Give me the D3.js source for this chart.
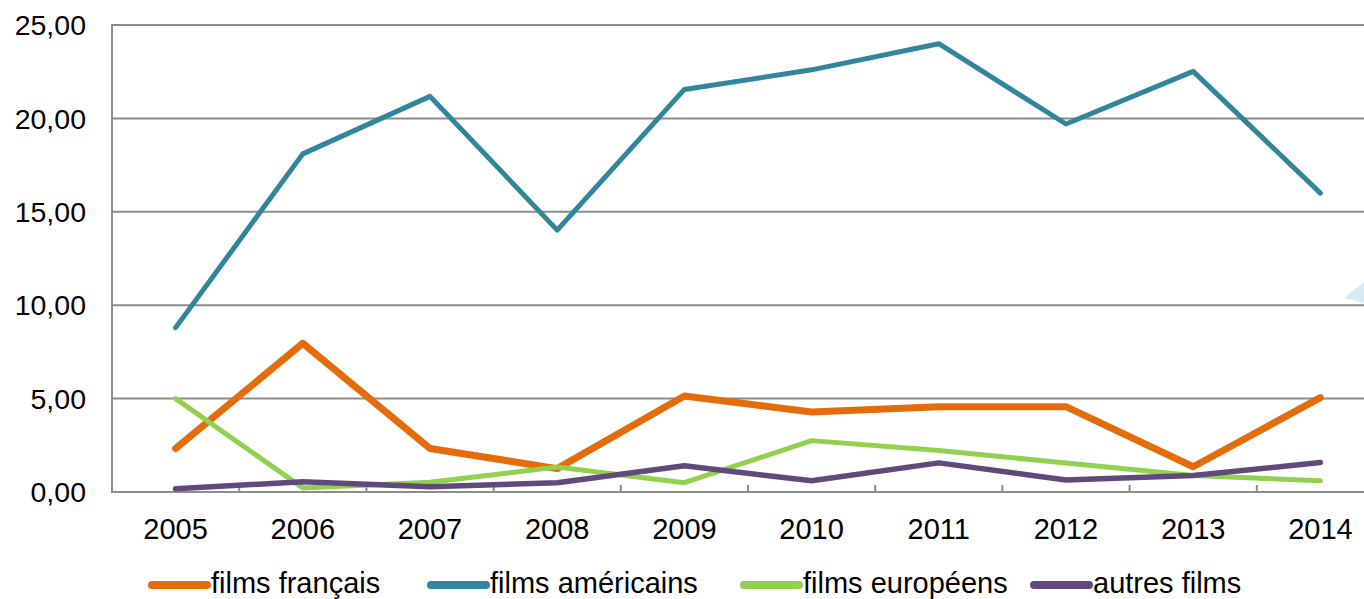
<!DOCTYPE html>
<html>
<head>
<meta charset="utf-8">
<script src="https://cdn.jsdelivr.net/npm/d3@7"></script>
<style>
  html, body { margin: 0; padding: 0; background: #fff; overflow: hidden; }
  svg { display: block; }
  text { font-family: "Liberation Sans", Arial, sans-serif; fill: #000; }
</style>
</head>
<body>
<svg id="chart" width="1364" height="599"></svg>
<script>
const years = ["2005","2006","2007","2008","2009","2010","2011","2012","2013","2014"];
const seriesNames = ["films français","films américains","films européens","autres films"];
const filmsFrancais   = [2.33, 7.96, 2.33, 1.25, 5.14, 4.28, 4.57, 4.57, 1.35, 5.05];
const filmsAmericains = [8.80, 18.10, 21.18, 14.02, 21.55, 22.60, 24.00, 19.70, 22.52, 16.00];
const filmsEuropeens  = [5.00, 0.22, 0.52, 1.34, 0.50, 2.75, 2.22, 1.55, 0.88, 0.60];
const autresFilms     = [0.17, 0.55, 0.28, 0.50, 1.40, 0.60, 1.56, 0.64, 0.88, 1.58];
const yTicks = [0, 5, 10, 15, 20, 25];
const colors = ["#E46C0A", "#31859C", "#92D050", "#604A7B"];
const widths = [7, 5, 5, 5.5];

const seriesValues = [filmsFrancais, filmsAmericains, filmsEuropeens, autresFilms];

(function () {
const svg = d3.select("#chart");
const mLeft = 112, mTop = 25, mBottom = 492, mRight = 112 + 10 * 127.2;

const x = d3.scaleBand().domain(years).range([mLeft, mRight]).padding(0);
const y = d3.scaleLinear().domain([0, 25]).range([mBottom, mTop]);

const fmt = v => d3.format(".2f")(v).replace(".", ",");

// decoration triangle at right edge
svg.append("path")
  .attr("d", "M1364,282 L1344,298 L1364,303 Z")
  .attr("fill", "#d6eaf2");

// gridlines
svg.append("g").selectAll("line").data(yTicks).join("line")
  .attr("x1", mLeft).attr("x2", mRight)
  .attr("y1", d => y(d)).attr("y2", d => y(d))
  .attr("stroke", "#8c8c8c").attr("stroke-width", 2);

// y axis line
svg.append("line")
  .attr("x1", mLeft).attr("x2", mLeft).attr("y1", mTop - 1).attr("y2", mBottom + 1)
  .attr("stroke", "#8c8c8c").attr("stroke-width", 2);

// y labels
svg.append("g").selectAll("text").data(yTicks).join("text")
  .attr("x", 86).attr("y", d => y(d))
  .attr("dy", "0.36em")
  .attr("text-anchor", "end")
  .attr("font-size", 28.5)
  .text(d => fmt(d));

// x tick marks at band boundaries (upward)
svg.append("g").selectAll("line").data(years.slice(1)).join("line")
  .attr("x1", d => x(d)).attr("x2", d => x(d))
  .attr("y1", mBottom).attr("y2", mBottom - 7)
  .attr("stroke", "#8c8c8c").attr("stroke-width", 2);

// x labels
svg.append("g").selectAll("text").data(years).join("text")
  .attr("x", d => x(d) + x.bandwidth() / 2).attr("y", 539)
  .attr("text-anchor", "middle")
  .attr("font-size", 29)
  .text(d => d);

// lines
const line = d3.line()
  .x((d, i) => x(years[i]) + x.bandwidth() / 2)
  .y(d => y(d));

svg.append("g").selectAll("path").data(seriesValues).join("path")
  .attr("d", d => line(d))
  .attr("fill", "none")
  .attr("stroke", (d, i) => colors[i])
  .attr("stroke-width", (d, i) => widths[i])
  .attr("stroke-linejoin", "round")
  .attr("stroke-linecap", "round");

// legend
const legendX = [152, 431, 744, 1034];
const lg = svg.append("g").selectAll("g").data(seriesNames).join("g")
  .attr("transform", (d, i) => `translate(${legendX[i]},585)`);
lg.append("line")
  .attr("x1", 0).attr("x2", 55).attr("y1", 0).attr("y2", 0)
  .attr("stroke", (d, i) => colors[i])
  .attr("stroke-width", 8)
  .attr("stroke-linecap", "round");
lg.append("text")
  .attr("x", 59).attr("y", 8)
  .attr("font-size", 29)
  .text(d => d);
})();
</script>
</body>
</html>
